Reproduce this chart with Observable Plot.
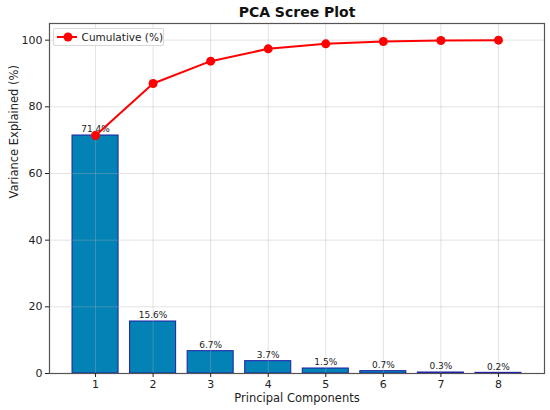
<!DOCTYPE html>
<html>
<head>
<meta charset="utf-8">
<script src="https://cdn.jsdelivr.net/npm/d3@7"></script>
<script src="https://cdn.jsdelivr.net/npm/@observablehq/plot@0.6"></script>
<style>
  html, body { margin: 0; padding: 0; background: #fff; }
  #wrap { position: relative; width: 550px; height: 410px; font-family: "DejaVu Sans", sans-serif; }
  #legend {
    position: absolute; left: 53px; top: 28px; width: 109px; height: 16px;
    border: 1px solid #d8d8d8; border-radius: 2px; background: rgba(255,255,255,0.9);
    font-size: 10.5px; color: #222; display: flex; align-items: center; white-space: nowrap;
  }
  #legend svg { margin-left: 3px; margin-right: 5px; }
</style>
</head>
<body>
<div id="wrap"><div id="legend"><svg width="22" height="10"><line x1="0" y1="5" x2="22" y2="5" stroke="#ff0000" stroke-width="2"/><circle cx="11" cy="5" r="4.5" fill="#ff0000"/></svg>Cumulative (%)</div></div>
<script>
const components = [1, 2, 3, 4, 5, 6, 7, 8];
const variance = [71.4, 15.6, 6.7, 3.7, 1.5, 0.7, 0.3, 0.2];
const cumulative = [71.4, 87.0, 93.7, 97.4, 98.9, 99.6, 99.9, 100.0];
const yTicks = [0, 20, 40, 60, 80, 100];
const barLabels = ["71.4%", "15.6%", "6.7%", "3.7%", "1.5%", "0.7%", "0.3%", "0.2%"];

const bars = components.map((c, i) => ({ pc: c, v: variance[i], label: barLabels[i] }));
const cum = components.map((c, i) => ({ pc: c, v: cumulative[i] }));
const halfWidth = 0.4;

const chart = Plot.plot({
  width: 550,
  height: 410,
  marginLeft: 49,
  marginRight: 6,
  marginTop: 23,
  marginBottom: 37,
  style: { fontFamily: "DejaVu Sans, sans-serif", fontSize: "11px", color: "#222", background: "#fff" },
  x: { domain: [0.2, 8.8] },
  y: { domain: [0, 105] },
  marks: [
    Plot.rectY(bars, { x1: d => d.pc - halfWidth, x2: d => d.pc + halfWidth, y1: 0, y2: "v", fill: "#0382b6", stroke: "#1c1ca6", strokeWidth: 1 }),
    Plot.gridX(components, { stroke: "#b0b0b0", strokeOpacity: 0.35 }),
    Plot.gridY(yTicks, { stroke: "#b0b0b0", strokeOpacity: 0.35 }),
    Plot.text(bars, { x: "pc", y: "v", text: "label", dy: -6, fontSize: 9, fill: "#222" }),
    Plot.line(cum, { x: "pc", y: "v", stroke: "#ff0000", strokeWidth: 2 }),
    Plot.dot(cum, { x: "pc", y: "v", r: 4.5, fill: "#ff0000" }),
    Plot.frame({ stroke: "#555", strokeWidth: 1.2 }),
    Plot.axisX(components, { tickSize: 4, tickPadding: 3, label: null, fontSize: 11 }),
    Plot.axisY(yTicks, { tickSize: 4, tickPadding: 3, label: null, fontSize: 11 }),
    Plot.text(["PCA Scree Plot"], { frameAnchor: "top", lineAnchor: "middle", dy: -11, fontSize: 14, fontWeight: "bold", fill: "#111" }),
    Plot.text(["Principal Components"], { frameAnchor: "bottom", lineAnchor: "middle", dy: 25, fontSize: 11.5, fill: "#222" }),
    Plot.text(["Variance Explained (%)"], { frameAnchor: "left", dx: -35, rotate: -90, fontSize: 11.5, fill: "#222" })
  ]
});
document.getElementById("wrap").prepend(chart);
</script>
</body>
</html>
